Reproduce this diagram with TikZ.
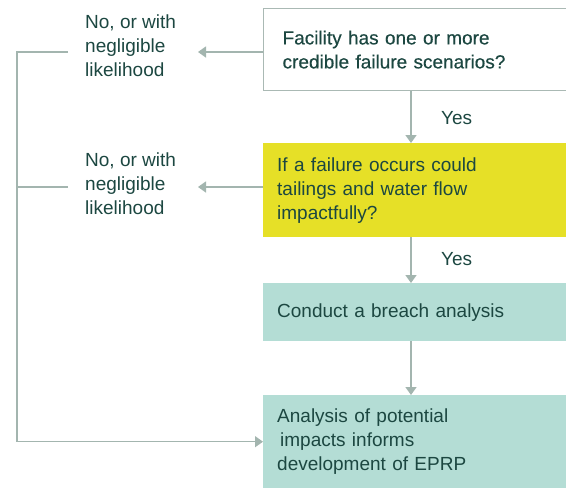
\documentclass[tikz,border=0pt]{standalone}
\usepackage{fontspec}
\setmainfont{Liberation Sans}
\newfontfamily\headfont[FakeBold=0.4]{Liberation Sans}
\usetikzlibrary{arrows.meta,positioning}
\definecolor{linegray}{HTML}{A3B5AF}
\definecolor{textgreen}{HTML}{1C4741}
\definecolor{boxyellow}{HTML}{E6E027}
\definecolor{boxteal}{HTML}{B4DDD5}
\definecolor{framegray}{HTML}{AAB9B4}
\begin{document}
\begin{tikzpicture}[x=1pt,y=-1pt,
  font=\fontsize{19}{24}\selectfont,text=textgreen,
  box/.style={anchor=north west,minimum width=310pt,text width=282pt,inner xsep=14pt,align=left},
  side label/.style={anchor=west,align=left,inner sep=0pt},
  flow/.style={draw=linegray,line width=1.4pt,-{Triangle[width=11pt,length=8pt]}},
  plain/.style={draw=linegray,line width=1.4pt}]

  \useasboundingbox (0,0) rectangle (566,488);

  % boxes
  \node[box,draw=framegray,line width=1.2pt,fill=white,minimum height=82pt,
        minimum width=320pt,inner xsep=19pt,text width=282pt] (credible) at (263,8)
        {{\headfont Facility has one or more\\ credible failure scenarios?}};
  \node[box,fill=boxyellow,minimum height=94pt] (impact) at (263,143)
        {If a failure occurs could\\ tailings and water flow\\ impactfully?};
  \node[box,fill=boxteal,minimum height=58pt] (breach) at (263,283)
        {Conduct a breach analysis};
  \node[box,fill=boxteal,minimum height=93pt] (eprp) at (263,395)
        {Analysis of potential\\ \hspace*{3pt}impacts informs\\ development of EPRP};

  % side labels
  \node[side label] (no1) at (85,46) {No, or with\\ negligible\\ likelihood};
  \node[side label] (no2) at (85,184) {No, or with\\ negligible\\ likelihood};
  \node[side label] (yes1) at (441,118) {Yes};
  \node[side label] (yes2) at (441,259) {Yes};

  \coordinate (tip1) at (198,52);
  \coordinate (tip2) at (198,187);
  \coordinate (start1) at (68,52);
  \coordinate (start2) at (68,187);
  \coordinate (rail1) at (17,52);
  \coordinate (rail2) at (17,187);

  % connectors
  \draw[flow] ([xshift=148pt]credible.south west) -- ([xshift=148pt]impact.north west);
  \draw[flow] ([xshift=148pt]impact.south west) -- ([xshift=148pt]breach.north west);
  \draw[flow] ([xshift=148pt]breach.south west) -- ([xshift=148pt]eprp.north west);
  \draw[flow] (credible.west |- tip1) -- (tip1);
  \draw[flow] (impact.west |- tip2) -- (tip2);
  \draw[flow] (start1) -- (rail1) |- (eprp.west);
  \draw[plain] (start2) -- (rail2);
\end{tikzpicture}
\end{document}
